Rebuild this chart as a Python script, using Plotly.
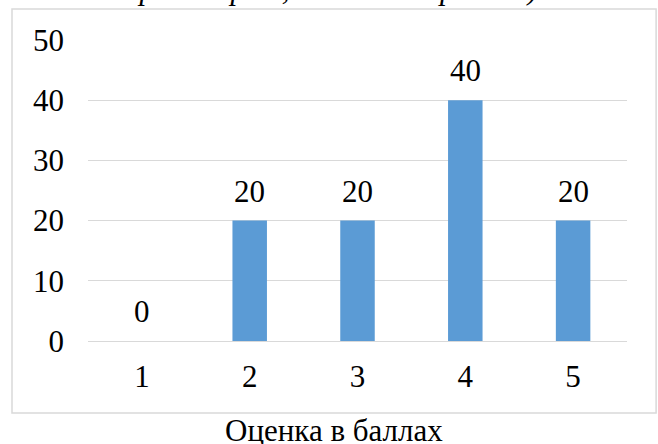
import plotly.graph_objects as go

categories = ["1", "2", "3", "4", "5"]
values = [0, 20, 20, 40, 20]
y_ticks = [0, 10, 20, 30, 40, 50]
title_text = "транспорте, наличие парковки)"
x_title = "Оценка в баллах"

FONT = "Liberation Serif"
FS = 31

fig = go.Figure(go.Bar(
    x=categories, y=values,
    marker=dict(color="#5B9BD5", line=dict(width=0)),
    cliponaxis=False,
))

for i, v in enumerate(values):
    fig.add_annotation(x=i, y=v, text=str(v), showarrow=False,
                       xanchor="center", yanchor="bottom", yshift=10,
                       font=dict(family=FONT, size=FS, color="#000000"))

fig.update_layout(
    width=658, height=444,
    margin=dict(l=88, r=31, t=40, b=103),
    paper_bgcolor="white", plot_bgcolor="white",
    bargap=0.68,
    showlegend=False,
    font=dict(family=FONT, size=FS, color="#000000"),
)
fig.update_yaxes(
    range=[0, 50], tickvals=y_ticks, showgrid=True,
    gridcolor="#D9D9D9", gridwidth=1.3,
    zeroline=True, zerolinecolor="#D9D9D9", zerolinewidth=1.3,
    showline=False, ticks="", ticklabelstandoff=23,
    tickfont=dict(family=FONT, size=FS, color="#000000"),
)
fig.update_xaxes(
    type="category",
    showgrid=False, showline=False, ticks="", ticklabelstandoff=14,
    tickfont=dict(family=FONT, size=FS, color="#000000"),
)

# outer chart frame
fig.add_shape(type="rect", xref="paper", yref="paper",
              x0=-0.141, x1=1.054, y0=-0.239, y1=1.103,
              line=dict(color="#D9D9D9", width=1.5), fillcolor="rgba(0,0,0,0)")

# cropped title
fig.add_annotation(text="<i>" + title_text + "</i>", xref="paper", yref="paper",
                   x=0.445, y=1.106, xanchor="center", yanchor="bottom",
                   showarrow=False, font=dict(family=FONT, size=FS, color="#000000"))

fig.add_annotation(text=x_title, xref="paper", yref="paper",
                   x=0.456, y=-0.232, xanchor="center", yanchor="top",
                   showarrow=False, font=dict(family=FONT, size=FS, color="#000000"))

fig.write_html("out.html", config={"displayModeBar": False},
               post_script="document.body.style.margin='0';document.body.style.overflow='hidden';")
